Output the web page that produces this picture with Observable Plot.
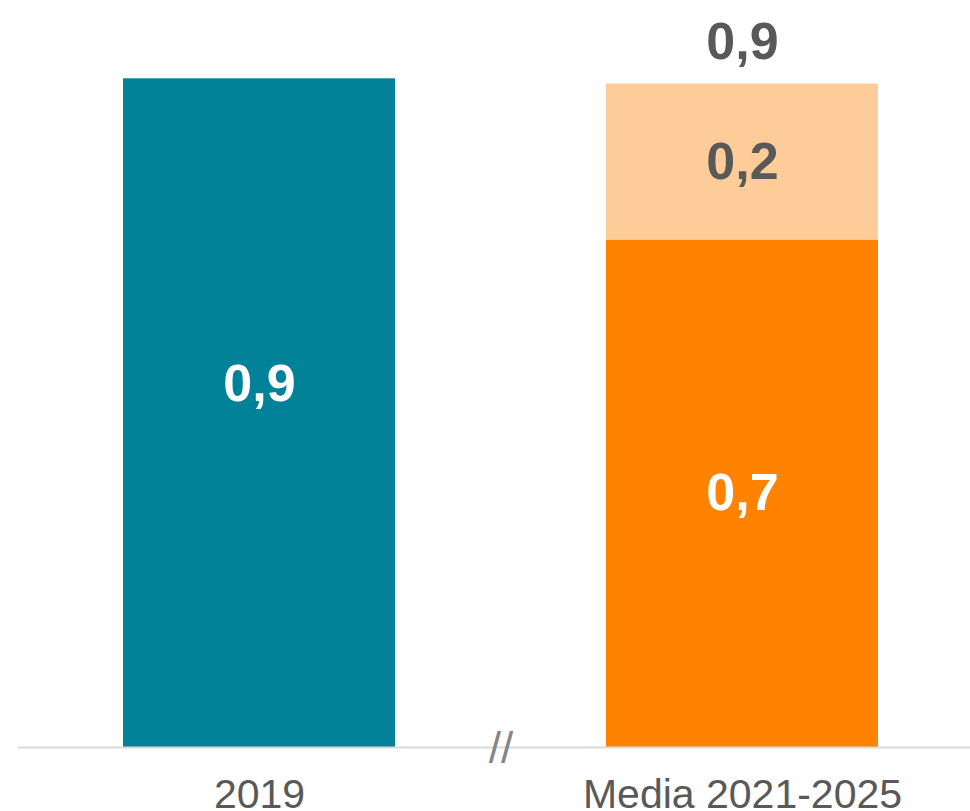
<!DOCTYPE html>
<html>
<head>
<meta charset="utf-8">
<script src="https://cdn.jsdelivr.net/npm/d3@7"></script>
<script src="https://cdn.jsdelivr.net/npm/@observablehq/plot@0.6"></script>
<style>
  html, body { margin: 0; padding: 0; background: #fff; }
  #chart svg { display: block; }
</style>
</head>
<body>
<div id="chart"></div>
<script>
// Data
const categories = ["2019", "Media 2021-2025"];
const barCategory = ["2019", "Media 2021-2025", "Media 2021-2025"];
const barSeries = ["2019", "Media base", "Incremento"];
const barValues = [0.90, 0.683, 0.21];
const seriesColors = ["#028299", "#FF8200", "#FECC99"];
const labelColors = ["#ffffff", "#ffffff", "#595959"];

const fmt = v => v.toFixed(1).replace(".", ",");

const rows = barValues.map((v, i) => ({
  category: barCategory[i],
  series: barSeries[i],
  value: v,
  labelColor: labelColors[i]
}));
const rows2019 = rows.filter(d => d.category === categories[0]);
const rowsMedia = rows.filter(d => d.category === categories[1]);
const totals = [{category: categories[1], value: d3.sum(rowsMedia, d => d.value)}];

const plot = Plot.plot({
  width: 970,
  height: 811,
  marginLeft: 74,
  marginRight: 43,
  marginTop: 4,
  marginBottom: 64,
  style: {fontFamily: "'Liberation Sans', Arial, sans-serif", background: "#fff"},
  x: {domain: categories, paddingInner: 0.436, paddingOuter: 0.1, label: null},
  y: {domain: [0, 1], axis: null},
  color: {domain: barSeries, range: seriesColors},
  marks: [
    Plot.barY(rows, {x: "category", y: "value", fill: "series", order: barSeries}),
    Plot.ruleY([0], {stroke: "#d9d9d9", strokeWidth: 2, insetLeft: -56, insetRight: -43}),
    Plot.text(["//"], {frameAnchor: "bottom", text: d => d, fontSize: 44, fill: "#858585",
      lineAnchor: "middle", dy: 1, letterSpacing: 3}),
    Plot.text(rows2019, {x: "category", y: d => d.value / 2, text: d => fmt(d.value),
      fill: "labelColor", fontSize: 52, fontWeight: "bold", dy: -29}),
    Plot.text(rowsMedia, Plot.stackY({x: "category", y: "value", order: barSeries.slice(1),
      text: d => fmt(d.value), fill: "labelColor", fontSize: 52, fontWeight: "bold"})),
    Plot.text(totals, {x: "category", y: "value", text: d => fmt(d.value),
      fill: "#595959", fontSize: 52, fontWeight: "bold", dy: -42}),
    Plot.axisX({tickSize: 0, tickPadding: 31, fontSize: 41, fill: "#595959", label: null})
  ]
});
document.getElementById("chart").appendChild(plot);
</script>
</body>
</html>
